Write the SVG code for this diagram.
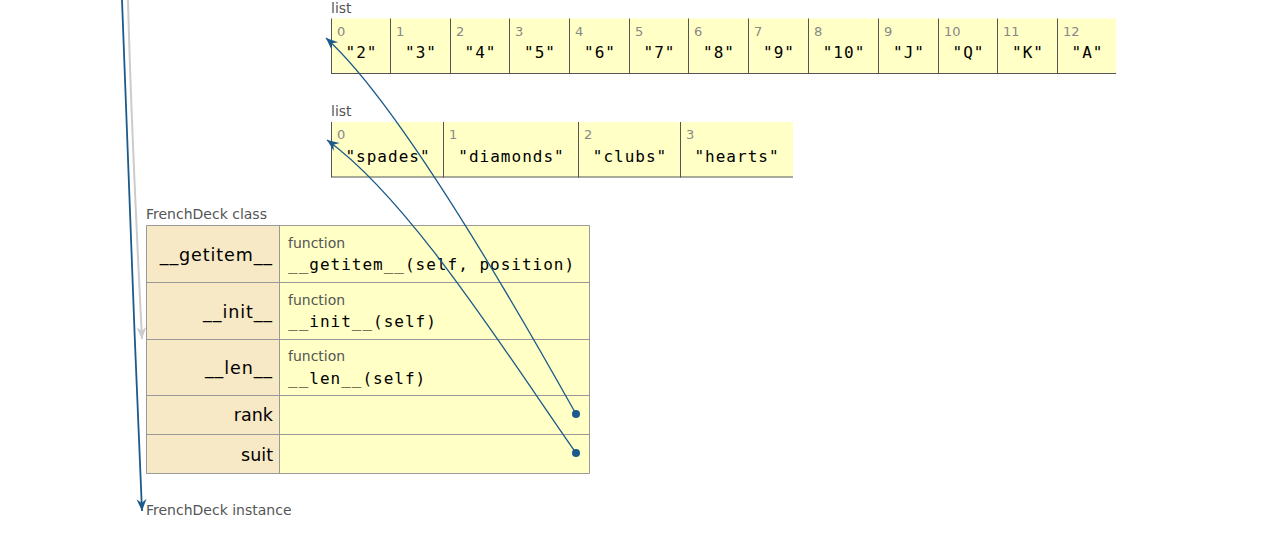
<svg xmlns="http://www.w3.org/2000/svg" width="1282" height="540" viewBox="0 0 1282 540">
  <style>
    .type { font-family: "DejaVu Sans", Verdana, sans-serif; font-size: 14px; fill: #555; }
    .idx { font-family: "DejaVu Sans", Verdana, sans-serif; font-size: 13px; fill: #888; }
    .val { font-family: "DejaVu Sans Mono", "Liberation Mono", monospace; font-size: 16px; letter-spacing: 1px; fill: #000; text-anchor: middle; }
    .code { font-family: "DejaVu Sans Mono", "Liberation Mono", monospace; font-size: 16px; letter-spacing: 1px; fill: #000; }
    .key { font-family: "DejaVu Sans", Verdana, sans-serif; font-size: 17.5px; fill: #000; text-anchor: end; }
    .cell { fill: #FFFFC6; }
    .keycell { fill: #F7E8C6; }
    .listline { stroke: #555; stroke-width: 1; fill: none; }
    .tblline { stroke: #999; stroke-width: 1; fill: none; }
    .ptr { stroke: #1B5A8A; stroke-width: 1.3; fill: none; }
    .ptr-wide { stroke: #1B5A8A; stroke-width: 1.8; fill: none; }
    .ptr-grey { stroke: #cccccc; stroke-width: 2; fill: none; }
  </style>
  <defs>
    <marker id="head-blue" markerUnits="userSpaceOnUse" markerWidth="14" markerHeight="12" viewBox="-13 -6 14 12" refX="0" refY="0" orient="auto">
      <path d="M0,0 L-12,-5 L-8,0 L-12,5 Z" fill="#1B5A8A"/>
    </marker>
    <marker id="head-grey" markerUnits="userSpaceOnUse" markerWidth="14" markerHeight="12" viewBox="-13 -6 14 12" refX="0" refY="0" orient="auto">
      <path d="M0,0 L-12,-5 L-8,0 L-12,5 Z" fill="#cccccc"/>
    </marker>
  </defs>

  <!-- ranks list -->
  <g id="ranks-list">
    <text class="type" x="331" y="13">list</text>
    <rect class="cell" x="331.5" y="18.5" width="784.5" height="55"/>
    <path class="listline" d="M331.5,18.5 V74 M390.5,18.5 V74 M450.5,18.5 V74 M509.5,18.5 V74 M569.5,18.5 V74 M629.5,18.5 V74 M688.5,18.5 V74 M748.5,18.5 V74 M808.5,18.5 V74 M878.5,18.5 V74 M938.5,18.5 V74 M997.5,18.5 V74 M1057.5,18.5 V74 M331.5,73.5 H1116"/>
    <text class="idx" x="337" y="36">0</text>
    <text class="idx" x="396" y="36">1</text>
    <text class="idx" x="456" y="36">2</text>
    <text class="idx" x="515" y="36">3</text>
    <text class="idx" x="575" y="36">4</text>
    <text class="idx" x="635" y="36">5</text>
    <text class="idx" x="694" y="36">6</text>
    <text class="idx" x="754" y="36">7</text>
    <text class="idx" x="814" y="36">8</text>
    <text class="idx" x="884" y="36">9</text>
    <text class="idx" x="944" y="36">10</text>
    <text class="idx" x="1003" y="36">11</text>
    <text class="idx" x="1063" y="36">12</text>
    <text class="val" x="361.5" y="58">"2"</text>
    <text class="val" x="421" y="58">"3"</text>
    <text class="val" x="480.5" y="58">"4"</text>
    <text class="val" x="540" y="58">"5"</text>
    <text class="val" x="600" y="58">"6"</text>
    <text class="val" x="659.5" y="58">"7"</text>
    <text class="val" x="719" y="58">"8"</text>
    <text class="val" x="779" y="58">"9"</text>
    <text class="val" x="844" y="58">"10"</text>
    <text class="val" x="909" y="58">"J"</text>
    <text class="val" x="968.5" y="58">"Q"</text>
    <text class="val" x="1028" y="58">"K"</text>
    <text class="val" x="1087.5" y="58">"A"</text>
  </g>

  <!-- suits list -->
  <g id="suits-list">
    <text class="type" x="331" y="116">list</text>
    <rect class="cell" x="331.5" y="122" width="461.5" height="55"/>
    <path class="listline" d="M331.5,122 V177.5 M443.5,122 V177.5 M578.5,122 V177.5 M680.5,122 V177.5 M331.5,177 H793"/>
    <text class="idx" x="337" y="139">0</text>
    <text class="idx" x="449" y="139">1</text>
    <text class="idx" x="584" y="139">2</text>
    <text class="idx" x="686" y="139">3</text>
    <text class="val" x="388" y="162">"spades"</text>
    <text class="val" x="511.5" y="162">"diamonds"</text>
    <text class="val" x="630" y="162">"clubs"</text>
    <text class="val" x="737" y="162">"hearts"</text>
  </g>

  <!-- FrenchDeck class -->
  <g id="frenchdeck-class">
    <text class="type" x="146" y="219">FrenchDeck class</text>
    <rect class="keycell" x="146.5" y="225.5" width="133" height="248"/>
    <rect class="cell" x="279.5" y="225.5" width="310" height="248"/>
    <path class="tblline" d="M146.5,225.5 H589.5 V473.5 H146.5 Z M279.5,225.5 V473.5 M146.5,282.5 H589.5 M146.5,339.5 H589.5 M146.5,395.5 H589.5 M146.5,434.5 H589.5"/>
    <text class="key" x="273" y="261" letter-spacing="0.9">__getitem__</text>
    <text class="type" x="288" y="248">function</text>
    <text class="code" x="288" y="270">__getitem__(self, position)</text>
    <text class="key" x="273" y="318" letter-spacing="0.9">__init__</text>
    <text class="type" x="288" y="305">function</text>
    <text class="code" x="288" y="327">__init__(self)</text>
    <text class="key" x="273" y="374" letter-spacing="0.9">__len__</text>
    <text class="type" x="288" y="361">function</text>
    <text class="code" x="288" y="384">__len__(self)</text>
    <text class="key" x="273" y="421">rank</text>
    <text class="key" x="273" y="461">suit</text>
    <circle cx="576" cy="414" r="4" fill="#1B5A8A"/>
    <circle cx="576" cy="453" r="4" fill="#1B5A8A"/>
  </g>

  <!-- FrenchDeck instance -->
  <g id="frenchdeck-instance">
    <text class="type" x="146" y="515">FrenchDeck instance</text>
  </g>

  <!-- connectors -->
  <g id="connectors">
    <path class="ptr-grey" d="M128,0 C131,120 137,240 142,339" marker-end="url(#head-grey)"/>
    <path class="ptr-wide" d="M122,0 C126,140 135,340 142,511" marker-end="url(#head-blue)"/>
    <path class="ptr" d="M576,414 C520,314 400,105 326,38" marker-end="url(#head-blue)"/>
    <path class="ptr" d="M576,453 C506,353 410,200 327,140" marker-end="url(#head-blue)"/>
  </g>
</svg>
